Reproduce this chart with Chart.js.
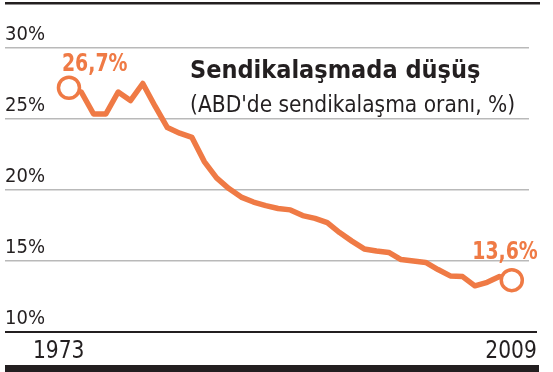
<!DOCTYPE html>
<html>
<head>
<meta charset="utf-8">
<script src="https://cdn.jsdelivr.net/npm/chart.js@4.4.1/dist/chart.umd.min.js"></script>
<style>
  html, body { margin: 0; padding: 0; background: #fff; }
  #wrap { width: 553px; height: 372px; }
</style>
</head>
<body>
<div id="wrap"><canvas id="unionChart" width="553" height="372"></canvas></div>
<script>
// US union membership rate, 1973-2009
const years = [1973, 1974, 1975, 1976, 1977, 1978, 1979, 1980, 1981, 1982,
               1983, 1984, 1985, 1986, 1987, 1988, 1989, 1990, 1991, 1992,
               1993, 1994, 1995, 1996, 1997, 1998, 1999, 2000, 2001, 2002,
               2003, 2004, 2005, 2006, 2007, 2008, 2009];
const rates = [27.2, 26.9, 25.35, 25.35, 26.9, 26.3, 27.5, 25.9, 24.4, 24.0,
               23.7, 22.0, 20.85, 20.1, 19.5, 19.15, 18.9, 18.7, 18.6, 18.2,
               18.0, 17.7, 17.0, 16.4, 15.85, 15.7, 15.6, 15.1, 15.0, 14.9,
               14.4, 13.95, 13.9, 13.25, 13.5, 13.9, 13.65];
const yTicks = [10, 15, 20, 25, 30];
const xTickLabels = ['1973', '2009'];
const endLabels = ['26,7%', '13,6%'];
const title = 'Sendikalaşmada düşüş';
const subtitle = "(ABD'de sendikalaşma oranı, %)";

const orange = '#ef7a45';
const ink = '#231f20';
const fontFam = "'DejaVu Sans Condensed', 'DejaVu Sans', sans-serif";

const points = years.map((y, i) => ({ x: y, y: rates[i] }));
const last = points.length - 1;

// text squeezed horizontally, the original face is narrower
function squeezed(ctx, text, x, y, align, sx) {
    ctx.save();
    ctx.translate(x, y);
    ctx.scale(sx, 1);
    ctx.textAlign = align;
    ctx.fillText(text, 0, 0);
    ctx.restore();
}

// rules, titles, end labels and year labels
const decorations = {
    id: 'decorations',
    beforeDatasetsDraw(chart) {
        const { ctx, chartArea } = chart;
        const ys = chart.scales.y;
        ctx.save();
        ctx.fillStyle = ink;
        // top rule
        ctx.fillRect(chartArea.left, 2, 535, 2.5);
        // base axis line
        ctx.fillRect(chartArea.left, ys.getPixelForValue(10) - 1, 532, 2);
        // bottom bar
        ctx.fillRect(chartArea.left, 365, 534, 7);

        ctx.textBaseline = 'alphabetic';
        ctx.font = 'bold 25px ' + fontFam;
        squeezed(ctx, title, 190, 78, 'left', 1);
        ctx.font = '22.5px ' + fontFam;
        squeezed(ctx, subtitle, 190, 112, 'left', 1);
        ctx.restore();
    },
    afterDatasetsDraw(chart) {
        const { ctx } = chart;
        const xs = chart.scales.x;
        const ys = chart.scales.y;
        ctx.save();
        ctx.textBaseline = 'alphabetic';
        // end value labels
        ctx.fillStyle = orange;
        ctx.font = 'bold 25px ' + fontFam;
        const p0 = chart.getDatasetMeta(0).data[0];
        const p1 = chart.getDatasetMeta(0).data[last];
        squeezed(ctx, endLabels[0], p0.x - 7, p0.y - 16.5, 'left', 0.84);
        squeezed(ctx, endLabels[1], p1.x + 26, p1.y - 21, 'right', 0.84);
        // year labels
        ctx.fillStyle = ink;
        ctx.font = '25px ' + fontFam;
        const base = ys.getPixelForValue(10) + 26;
        squeezed(ctx, xTickLabels[0], xs.getPixelForValue(years[0]) - 36, base, 'left', 0.9);
        squeezed(ctx, xTickLabels[1], xs.getPixelForValue(years[last]) + 25, base, 'right', 0.9);
        ctx.restore();
    }
};

new Chart(document.getElementById('unionChart'), {
    type: 'line',
    data: {
        datasets: [{
            data: points,
            borderColor: orange,
            borderWidth: 5.5,
            borderJoinStyle: 'round',
            borderCapStyle: 'round',
            tension: 0,
            pointRadius: points.map((p, i) => (i === 0 || i === last) ? 10.5 : 0),
            pointBackgroundColor: '#fff',
            pointBorderColor: orange,
            pointBorderWidth: 3.5,
            clip: false
        }]
    },
    options: {
        responsive: false,
        animation: false,
        layout: { autoPadding: false, padding: { left: 5, right: 24, top: 48, bottom: 40 } },
        plugins: {
            legend: { display: false },
            tooltip: { enabled: false }
        },
        scales: {
            x: {
                type: 'linear',
                min: 1967.8,
                max: 2010.4,
                grid: { display: false, drawTicks: false },
                border: { display: false },
                ticks: { display: false }
            },
            y: {
                min: 10,
                max: 30,
                afterBuildTicks: (scale) => { scale.ticks = yTicks.map(v => ({ value: v })); },
                grid: { color: '#b9b9b9', lineWidth: 1.5, drawTicks: false },
                border: { display: false },
                ticks: {
                    mirror: true,
                    padding: 0,
                    labelOffset: -13,
                    color: ink,
                    font: { family: fontFam, size: 20 },
                    callback: (v) => v + '%'
                }
            }
        }
    },
    plugins: [decorations]
});
</script>
</body>
</html>
